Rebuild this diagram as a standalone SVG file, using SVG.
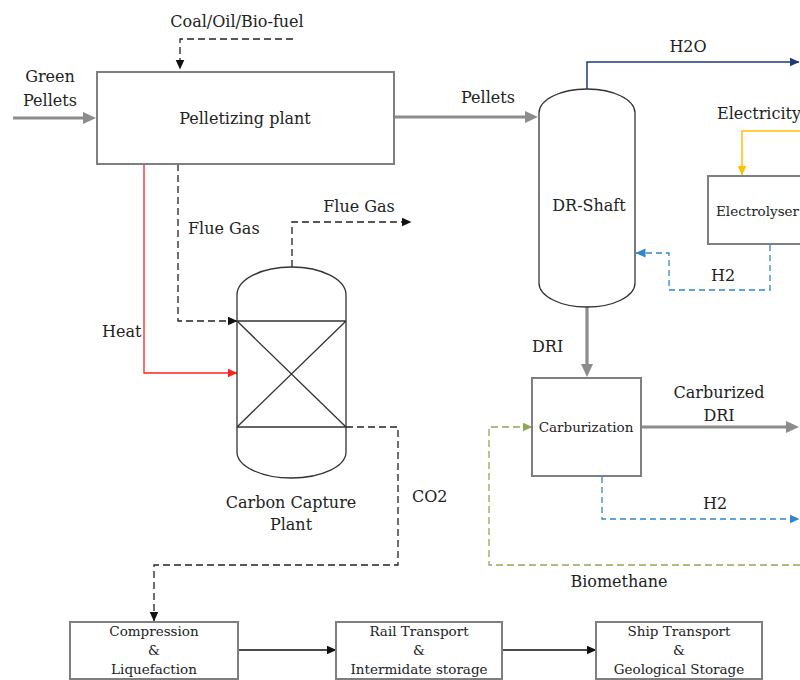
<svg xmlns="http://www.w3.org/2000/svg" width="800" height="680" viewBox="0 0 800 680">
<style>
text{font-family:"DejaVu Serif","Liberation Serif",serif;font-size:16px;fill:#222}
.sm{font-size:13.5px}
.mid{text-anchor:middle}
.box{fill:#fff;stroke:#7f7f7f;stroke-width:2}
.vessel{fill:#fff;stroke:#333;stroke-width:1.3}
.inner{stroke:#333;stroke-width:1.3;fill:none}
.gray{stroke:#8c8c8c;stroke-width:3.2;fill:none}
.dash{stroke:#222;stroke-width:1.3;fill:none;stroke-dasharray:7,4}
.solid{stroke:#111;stroke-width:1.3;fill:none}
.red{stroke:#ff2020;stroke-width:1.3;fill:none}
.navy{stroke:#1f3a7a;stroke-width:1.5;fill:none}
.yellow{stroke:#ffc000;stroke-width:1.5;fill:none}
.blue{stroke:#2e86d0;stroke-width:1.3;fill:none;stroke-dasharray:6,4}
.green{stroke:#8faa55;stroke-width:1.3;fill:none;stroke-dasharray:7,4}
</style>
<defs>
<marker id="aGray" markerUnits="userSpaceOnUse" markerWidth="13" markerHeight="13" refX="4" refY="6.5" orient="auto"><path d="M0,0.5 L13,6.5 L0,12.5 z" fill="#8c8c8c"/></marker>
<marker id="aBlack" markerUnits="userSpaceOnUse" markerWidth="10" markerHeight="10" refX="9.5" refY="4.5" orient="auto"><path d="M0,0 L10,4.5 L0,9 z" fill="#111"/></marker>
<marker id="aRed" markerUnits="userSpaceOnUse" markerWidth="10" markerHeight="10" refX="9.5" refY="4.5" orient="auto"><path d="M0,0 L10,4.5 L0,9 z" fill="#ff2020"/></marker>
<marker id="aNavy" markerUnits="userSpaceOnUse" markerWidth="10" markerHeight="10" refX="9.5" refY="4.5" orient="auto"><path d="M0,0 L10,4.5 L0,9 z" fill="#1f3a7a"/></marker>
<marker id="aYellow" markerUnits="userSpaceOnUse" markerWidth="10" markerHeight="10" refX="9.5" refY="4.5" orient="auto"><path d="M0,0 L10,4.5 L0,9 z" fill="#ffc000"/></marker>
<marker id="aBlue" markerUnits="userSpaceOnUse" markerWidth="10" markerHeight="10" refX="9.5" refY="4.5" orient="auto"><path d="M0,0 L10,4.5 L0,9 z" fill="#2e86d0"/></marker>
<marker id="aGreen" markerUnits="userSpaceOnUse" markerWidth="10" markerHeight="10" refX="9.5" refY="4.5" orient="auto"><path d="M0,0 L10,4.5 L0,9 z" fill="#8faa55"/></marker>
</defs>
<rect width="800" height="680" fill="#fff"/>

<g id="connectors">
<path class="gray" d="M13,118 L87,118" marker-end="url(#aGray)"/>
<path class="dash" d="M293,39 L180,39 L180,69" marker-end="url(#aBlack)"/>
<path class="gray" d="M394,117 L529,117" marker-end="url(#aGray)"/>
<path class="navy" d="M587,89 L587,62 L799,62" marker-end="url(#aNavy)"/>
<path class="yellow" d="M800,131 L742,131 L742,175" marker-end="url(#aYellow)"/>
<path class="blue" d="M770,245 L770,290 L669,290 L669,253 L636,253" marker-end="url(#aBlue)"/>
<path class="gray" d="M587,307 L587,368" marker-end="url(#aGray)"/>
<path class="gray" d="M641,427 L790,427" marker-end="url(#aGray)"/>
<path class="blue" d="M602,477 L602,519 L799,519" marker-end="url(#aBlue)"/>
<path class="green" d="M800,565 L489,565 L489,427 L532,427" marker-end="url(#aGreen)"/>
<path class="red" d="M144,164 L144,373 L237,373" marker-end="url(#aRed)"/>
<path class="dash" d="M178,164 L178,321 L237,321" marker-end="url(#aBlack)"/>
<path class="dash" d="M292,267 L292,222 L411,222" marker-end="url(#aBlack)"/>
<path class="dash" d="M346,427 L398,427 L398,565 L154,565 L154,621" marker-end="url(#aBlack)"/>
<path class="solid" d="M238,650 L336,650" marker-end="url(#aBlack)"/>
<path class="solid" d="M502,650 L596,650" marker-end="url(#aBlack)"/>
</g>

<g id="labels">
<text class="mid" x="50" y="82">Green</text>
<text class="mid" x="50" y="106">Pellets</text>
<text class="mid" x="237" y="27">Coal/Oil/Bio-fuel</text>
<text class="mid" x="488" y="103">Pellets</text>
<text class="mid" x="688" y="52">H2O</text>
<text x="717" y="119">Electricity</text>
<text class="mid" x="723" y="281">H2</text>
<text x="188" y="234">Flue Gas</text>
<text class="mid" x="359" y="212">Flue Gas</text>
<text x="102" y="337">Heat</text>
<text x="412" y="502">CO2</text>
<text x="532" y="352">DRI</text>
<text class="mid" x="719" y="398">Carburized</text>
<text class="mid" x="719" y="421">DRI</text>
<text class="mid" x="715" y="509">H2</text>
<text class="mid" x="619" y="587">Biomethane</text>
</g>

<g id="pelletizing-plant">
<rect class="box" x="97" y="72" width="297" height="92"/>
<text class="mid" x="245" y="124">Pelletizing plant</text>
</g>

<g id="dr-shaft">
<path class="vessel" d="M539,113 A48,24 0 0 1 635,113 L635,283 A48,24 0 0 1 539,283 Z"/>
<text class="mid" x="589" y="211">DR-Shaft</text>
</g>

<g id="electrolyser">
<rect class="box" x="708" y="176" width="110" height="68"/>
<text class="sm" x="716" y="216">Electrolyser</text>
</g>

<g id="carburization">
<rect class="box" x="532" y="378" width="109" height="98"/>
<text class="sm mid" x="586" y="432">Carburization</text>
</g>

<g id="carbon-capture-plant">
<path class="vessel" d="M237,295 A54.5,28 0 0 1 346,295 L346,452 A54.5,26 0 0 1 237,452 Z"/>
<path class="inner" d="M237,321 L346,321 M237,427 L346,427 M237,321 L346,427 M346,321 L237,427"/>
<text class="mid" x="291" y="508">Carbon Capture</text>
<text class="mid" x="291" y="530">Plant</text>
</g>

<g id="compression">
<rect class="box" x="70" y="622" width="168" height="57"/>
<text class="sm mid" x="154" y="636">Compression</text>
<text class="sm mid" x="154" y="655">&amp;</text>
<text class="sm mid" x="154" y="674">Liquefaction</text>
</g>

<g id="rail-transport">
<rect class="box" x="336" y="622" width="166" height="57"/>
<text class="sm mid" x="419" y="636">Rail Transport</text>
<text class="sm mid" x="419" y="655">&amp;</text>
<text class="sm mid" x="419" y="674">Intermidate storage</text>
</g>

<g id="ship-transport">
<rect class="box" x="596" y="622" width="166" height="57"/>
<text class="sm mid" x="679" y="636">Ship Transport</text>
<text class="sm mid" x="679" y="655">&amp;</text>
<text class="sm mid" x="679" y="674">Geological Storage</text>
</g>
</svg>
